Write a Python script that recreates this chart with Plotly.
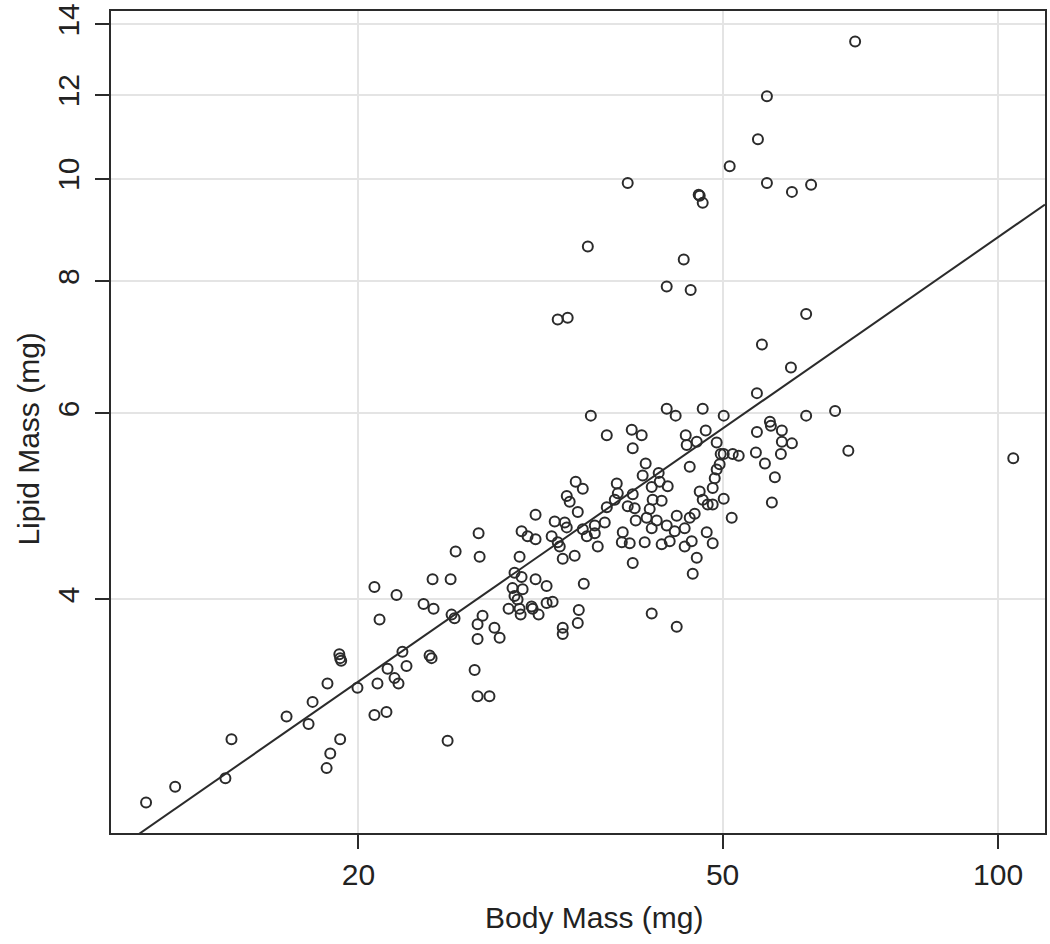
import numpy as np
import plotly.graph_objects as go

# Body mass (mg) and lipid mass (mg)
body_mass = [
    11.72, 12.61, 14.31, 14.53, 16.69, 17.64, 17.82, 18.50, 18.63, 19.10,
    19.06, 19.10, 19.15, 19.95, 20.82, 21.09, 22.01, 23.56, 24.16, 24.10,
    25.22, 25.28, 25.47, 22.34, 23.92, 24.04, 22.57, 21.52, 20.98, 21.90,
    22.12, 20.82, 21.46, 25.03, 18.46, 27.13, 30.00, 33.44, 34.46, 29.62,
    30.15, 31.23, 32.11, 35.26, 29.47, 30.23, 29.62, 29.85, 32.11, 32.60,
    29.18, 30.00, 30.92, 31.00, 30.08, 31.47, 34.82, 34.73, 33.44, 33.44,
    27.33, 26.99, 28.16, 26.99, 28.53, 26.79, 26.99, 27.81,
    35.89, 37.36, 34.55, 35.17, 33.78, 34.03, 34.73, 31.23, 37.36, 32.77,
    33.61, 33.78, 30.15, 30.61, 31.23, 27.06, 32.52, 33.02, 33.19, 35.17,
    35.53, 36.25, 36.25, 37.17, 36.52, 25.54,
    54.51, 43.44, 44.43, 47.56, 50.14, 39.78, 40.79, 39.88, 45.57, 47.92,
    45.68, 46.85, 49.26, 54.51, 54.37, 49.76, 50.14, 51.29, 52.07, 49.63,
    49.26, 46.03, 41.20, 42.57, 40.89, 49.02, 38.31, 41.83, 43.55, 42.68,
    48.77, 39.88, 38.41, 38.12, 47.20, 47.56, 48.16, 48.77, 50.14, 41.93,
    42.89, 39.38, 40.08, 41.62, 51.16, 40.18, 41.30, 42.36, 44.55, 46.03,
    46.61, 41.83, 43.44, 44.32, 38.89, 45.45, 48.04, 38.80, 39.58, 41.10,
    42.89, 43.77, 45.45, 46.26, 48.77, 39.88, 46.85,
    46.38, 41.83, 44.55,
    61.70, 66.36, 56.32, 56.46, 58.04, 58.04, 59.53, 55.62, 57.90, 68.61,
    57.03, 56.60, 103.9,
    69.79, 55.90, 54.65, 50.90, 39.38, 55.90, 59.53, 62.47, 47.08, 47.20,
    47.56, 35.62, 45.34, 43.44, 46.14, 33.02, 33.86, 61.70, 55.20, 59.38,
]
lipid_mass = [
    2.57, 2.66, 2.71, 2.95, 3.10, 3.05, 3.20, 3.33, 2.86, 2.95,
    3.55, 3.52, 3.50, 3.30, 4.11, 3.83, 4.04, 3.96, 3.92, 4.18,
    4.18, 3.87, 3.84, 3.57, 3.54, 3.52, 3.46, 3.44, 3.33, 3.37,
    3.33, 3.11, 3.13, 2.94, 2.77, 4.39, 4.39, 4.37, 4.40, 4.24,
    4.20, 4.18, 4.12, 4.14, 4.10, 4.09, 4.03, 4.00, 3.97, 3.98,
    3.92, 3.92, 3.94, 3.92, 3.87, 3.87, 3.91, 3.80, 3.76, 3.71,
    3.86, 3.79, 3.76, 3.67, 3.68, 3.43, 3.24, 3.24,
    5.97, 5.72, 5.17, 5.09, 5.01, 4.95, 4.84, 4.81, 4.89, 4.74,
    4.73, 4.68, 4.64, 4.59, 4.56, 4.62, 4.59, 4.53, 4.49, 4.66,
    4.59, 4.70, 4.62, 4.73, 4.49, 4.44,
    6.27, 6.06, 5.97, 6.06, 5.97, 5.79, 5.72, 5.56, 5.72, 5.78,
    5.60, 5.64, 5.63, 5.76, 5.51, 5.49, 5.49, 5.49, 5.47, 5.37,
    5.31, 5.34, 5.38, 5.27, 5.24, 5.21, 5.15, 5.11, 5.12, 5.17,
    5.10, 5.03, 5.04, 4.97, 5.06, 4.97, 4.92, 4.92, 4.98, 4.97,
    4.96, 4.90, 4.88, 4.87, 4.78, 4.75, 4.78, 4.75, 4.80, 4.78,
    4.82, 4.67, 4.70, 4.64, 4.63, 4.67, 4.63, 4.53, 4.52, 4.53,
    4.51, 4.54, 4.49, 4.54, 4.52, 4.33, 4.38,
    4.23, 3.88, 3.77,
    5.97, 6.03, 5.89, 5.84, 5.78, 5.64, 5.62, 5.38, 5.49, 5.53,
    5.22, 4.94, 5.44,
    13.49, 11.97, 10.90, 10.28, 9.91, 9.91, 9.72, 9.87, 9.66, 9.64,
    9.49, 8.63, 8.39, 7.91, 7.85, 7.36, 7.39, 7.45, 6.97, 6.63,
]

# Fitted log-log regression: log10(lipid) = intercept + slope * log10(body)
fit_intercept = -0.258
fit_slope = 0.6014

x_tick_vals = [20, 50, 100]
x_tick_text = ["20", "50", "100"]
y_tick_vals = [4, 6, 8, 10, 12, 14]
y_tick_text = ["4", "6", "8", "10", "12", "14"]

x_title = "Body Mass (mg)"
y_title = "Lipid Mass (mg)"

x_range_log = [1.0306, 2.0513]
y_range_log = [0.3811, 1.1588]

line_x = [10 ** x_range_log[0], 10 ** x_range_log[1]]
line_y = [10 ** (fit_intercept + fit_slope * np.log10(v)) for v in line_x]

ink = "#2b2b2b"
grid = "#e4e4e4"
font_family = "Liberation Sans, Arial, Helvetica, sans-serif"

W, H = 1050, 944
ML, MR, MT, MB = 111, 3, 6, 111
PW, PH = W - ML - MR, H - MT - MB


def px_to_paper(px, py):
    return (px - ML) / PW, (H - MB - py) / PH


fig = go.Figure()
fig.add_trace(go.Scatter(
    x=body_mass, y=lipid_mass, mode="markers",
    marker=dict(symbol="circle-open", size=10, color=ink,
                line=dict(width=2, color=ink)),
    hoverinfo="x+y",
))
fig.add_trace(go.Scatter(
    x=line_x, y=line_y, mode="lines",
    line=dict(color=ink, width=2), hoverinfo="skip",
))

axis_common = dict(
    type="log",
    showline=True, linecolor=ink, linewidth=2, mirror=True,
    showgrid=True, gridcolor=grid, gridwidth=2,
    zeroline=False,
    ticks="outside", ticklen=14, tickwidth=2, tickcolor=ink,
    ticklabeloverflow="allow",
    tickfont=dict(family=font_family, size=30, color="#222222"),
)

xt_x, xt_y = px_to_paper(595, 918)
yt_x, yt_y = px_to_paper(28, 437)

fig.update_layout(
    width=W, height=H,
    margin=dict(l=ML, r=MR, t=MT, b=MB),
    paper_bgcolor="white", plot_bgcolor="white",
    showlegend=False,
    xaxis=dict(axis_common, range=x_range_log, tickvals=x_tick_vals,
               ticktext=x_tick_text, ticklabelstandoff=0),
    yaxis=dict(axis_common, range=y_range_log, tickvals=y_tick_vals,
               ticktext=y_tick_text, tickangle=-90, ticklabelstandoff=4),
    annotations=[
        dict(text=x_title, x=xt_x, y=xt_y, xref="paper", yref="paper",
             xanchor="center", yanchor="middle", showarrow=False,
             font=dict(family=font_family, size=30, color="#222222")),
        dict(text=y_title, x=yt_x, y=yt_y, xref="paper", yref="paper",
             xanchor="center", yanchor="middle", showarrow=False, textangle=-90,
             font=dict(family=font_family, size=30, color="#222222")),
    ],
)

fig.write_html("out.html", config={"displayModeBar": False},
               post_script="document.body.style.margin='0px';")
